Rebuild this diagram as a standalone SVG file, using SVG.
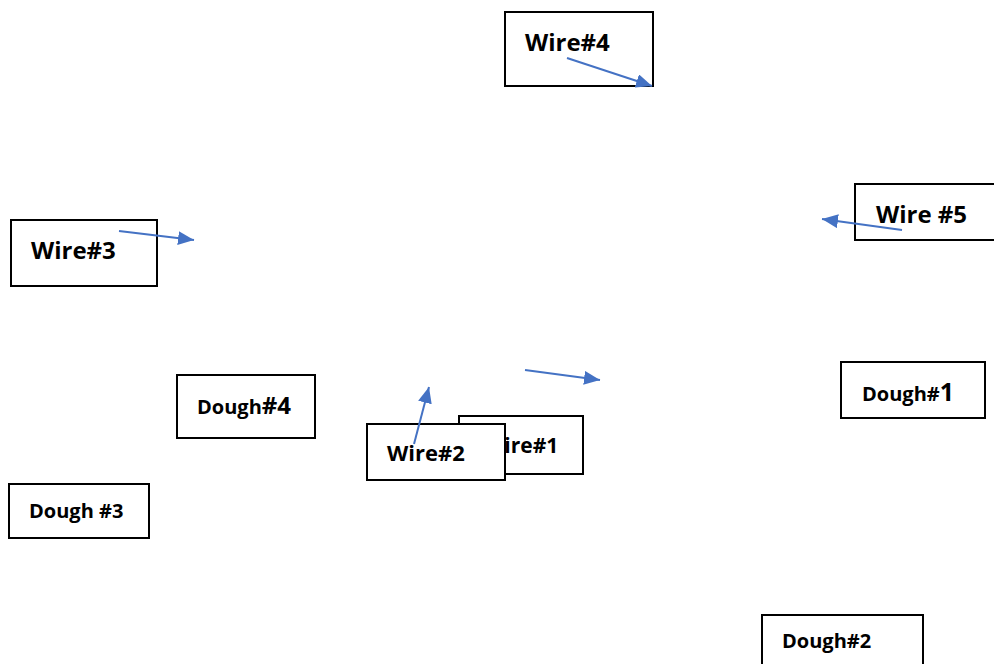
<svg xmlns="http://www.w3.org/2000/svg" width="994" height="664" viewBox="0 0 994 664">
<style>
.box{fill:#fff;stroke:#000;stroke-width:2}
.t{font-family:"Open Sans","Liberation Sans",sans-serif;font-weight:bold;fill:#000}
.w{font-size:24px}
.d{font-size:20px}
.c{stroke:#4472C4;stroke-width:2;fill:none;marker-end:url(#ah)}
</style>
<defs>
<marker id="ah" markerUnits="userSpaceOnUse" markerWidth="18" markerHeight="14" refX="16" refY="7" orient="auto">
<path d="M0,0 L16,7 L0,14 Z" fill="#4472C4"/>
</marker>
</defs>
<rect width="994" height="664" fill="#fff"/>
<g id="wire4"><rect class="box" x="505" y="12" width="148" height="74"/><text class="t w" x="525" y="51">Wire#4</text></g>
<g id="wire3"><rect class="box" x="11" y="220" width="146" height="66"/><text class="t w" x="31" y="259">Wire#3</text></g>
<g id="wire5"><rect class="box" x="855" y="184" width="145" height="56"/><text class="t w" x="876" y="223">Wire #5</text></g>
<g id="wire1"><rect class="box" x="459" y="416" width="124" height="58"/><text class="t" font-size="21" x="484" y="453">Wire#1</text></g>
<g id="wire2"><rect class="box" x="367" y="424" width="138" height="56"/><text class="t" font-size="22" x="387" y="461">Wire#2</text></g>
<g id="dough4"><rect class="box" x="177" y="375" width="138" height="63"/><text class="t d" x="197" y="414">Dough<tspan font-size="24">#4</tspan></text></g>
<g id="dough1"><rect class="box" x="841" y="362" width="144" height="56"/><text class="t d" x="862" y="401">Dough#<tspan font-size="25">1</tspan></text></g>
<g id="dough3"><rect class="box" x="9" y="484" width="140" height="54"/><text class="t d" x="29" y="518">Dough #3</text></g>
<g id="dough2"><rect class="box" x="762" y="615" width="161" height="60"/><text class="t d" x="782" y="648">Dough#2</text></g>
<g id="connectors">
<line class="c" x1="567" y1="58" x2="652" y2="86"/>
<line class="c" x1="119" y1="231" x2="194" y2="240"/>
<line class="c" x1="902" y1="230" x2="822" y2="219"/>
<line class="c" x1="414" y1="444" x2="429" y2="387"/>
<line class="c" x1="525" y1="370" x2="600" y2="380"/>
</g>
</svg>
